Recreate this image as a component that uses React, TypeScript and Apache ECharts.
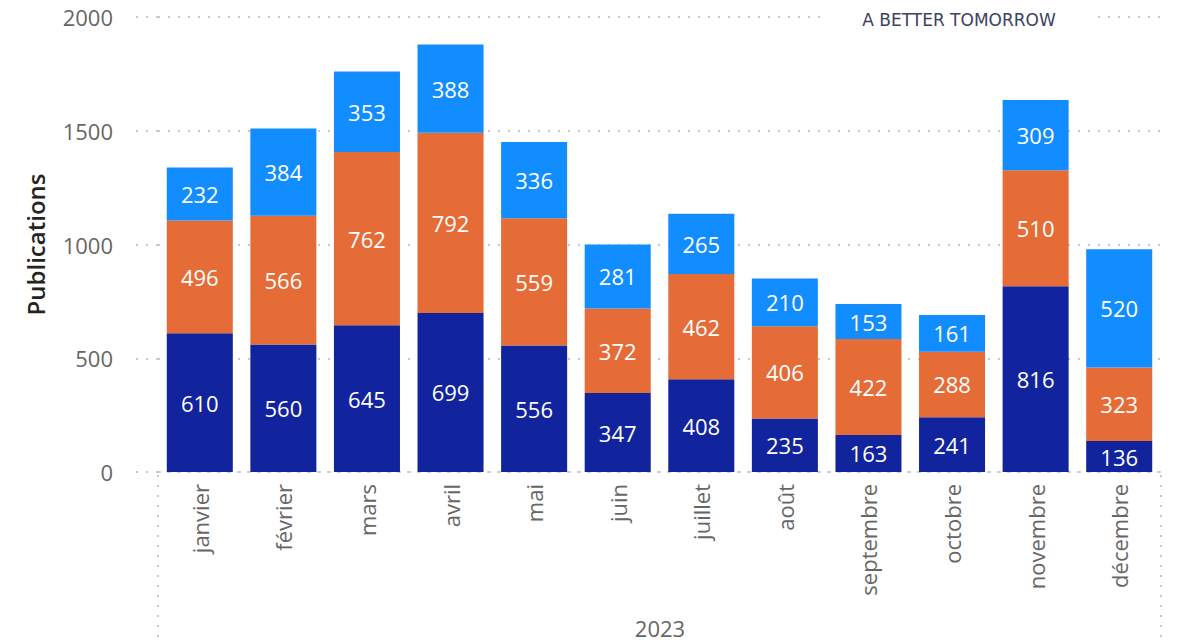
import React, { useEffect, useRef } from "react";
import * as echarts from "echarts";

const months = ["janvier", "février", "mars", "avril", "mai", "juin", "juillet", "août", "septembre", "octobre", "novembre", "décembre"];
const seriesBottom = [610, 560, 645, 699, 556, 347, 408, 235, 163, 241, 816, 136];
const seriesMiddle = [496, 566, 762, 792, 559, 372, 462, 406, 422, 288, 510, 323];
const seriesTop = [232, 384, 353, 388, 336, 281, 265, 210, 153, 161, 309, 520];
const seriesNames = ["Série 1", "Série 2", "Série 3"];
const yearLabel = "2023";
const axisTitle = "Publications";
const brandText = "A BETTER TOMORROW";

const FONT = "'Open Sans', 'Noto Sans', sans-serif";

export default function App() {
  const ref = useRef<HTMLDivElement>(null);
  useEffect(() => {
    if (!ref.current) return;
    const chart = echarts.init(ref.current, undefined, { renderer: "svg" });
    const label = {
      show: true,
      position: "inside",
      color: "#ffffff",
      fontSize: 22,
      fontFamily: FONT,
    };
    const mk = (name: string, data: number[], color: string) => ({
      name,
      type: "bar",
      stack: "total",
      data,
      barWidth: "79%",
      itemStyle: { color },
      label,
    });
    const dotted = { color: "#c8c8c8", type: [2, 8], width: 2 };
    chart.setOption({
      animation: false,
      grid: { left: 158, right: 36, top: 17, bottom: 171, containLabel: false },
      xAxis: {
        type: "category",
        data: months,
        axisLine: { show: true, lineStyle: dotted },
        axisTick: { show: false },
        axisLabel: {
          rotate: 90,
          color: "#666666",
          fontSize: 22,
          fontFamily: FONT,
          margin: 12,
        },
      },
      yAxis: {
        type: "value",
        min: 0,
        max: 2000,
        interval: 500,
        name: axisTitle,
        nameLocation: "middle",
        nameGap: 111,
        nameTextStyle: { color: "#252423", fontSize: 24, fontFamily: FONT, fontWeight: 600 },
        axisLine: { show: false },
        axisTick: { show: true, length: 25, lineStyle: dotted },
        axisLabel: {
          color: "#666666",
          fontSize: 22,
          fontFamily: FONT,
          margin: 45,
          formatter: (v: number) => String(v),
        },
        splitLine: { show: true, lineStyle: dotted },
      },
      series: [
        mk(seriesNames[0], seriesBottom, "#12239E"),
        mk(seriesNames[1], seriesMiddle, "#E66C37"),
        mk(seriesNames[2], seriesTop, "#118DFF"),
      ],
      graphic: [
        {
          type: "line",
          shape: { x1: 158, y1: 475, x2: 158, y2: 643 },
          style: { stroke: "#c8c8c8", lineWidth: 2, lineDash: [2, 8] },
        },
        {
          type: "line",
          shape: { x1: 1161, y1: 475, x2: 1161, y2: 643 },
          style: { stroke: "#c8c8c8", lineWidth: 2, lineDash: [2, 8] },
        },
        {
          type: "text",
          x: 660,
          y: 628,
          style: {
            text: yearLabel,
            fill: "#666666",
            fontSize: 22,
            fontFamily: FONT,
            align: "center",
            verticalAlign: "middle",
          },
        },
        {
          type: "rect",
          shape: { x: 825, y: 5, width: 270, height: 28 },
          style: { fill: "#ffffff" },
          z: 10,
        },
        {
          type: "text",
          x: 959,
          y: 20,
          z: 11,
          style: {
            text: brandText,
            fill: "#3b4262",
            fontSize: 17,
            fontFamily: "'DejaVu Sans', sans-serif",
            align: "center",
            verticalAlign: "middle",
          },
        },
      ],
    });
    return () => chart.dispose();
  }, []);
  return (
    <div
      ref={ref}
      style={{ position: "fixed", left: 0, top: 0, width: 1197, height: 643, background: "#ffffff" }}
    />
  );
}
